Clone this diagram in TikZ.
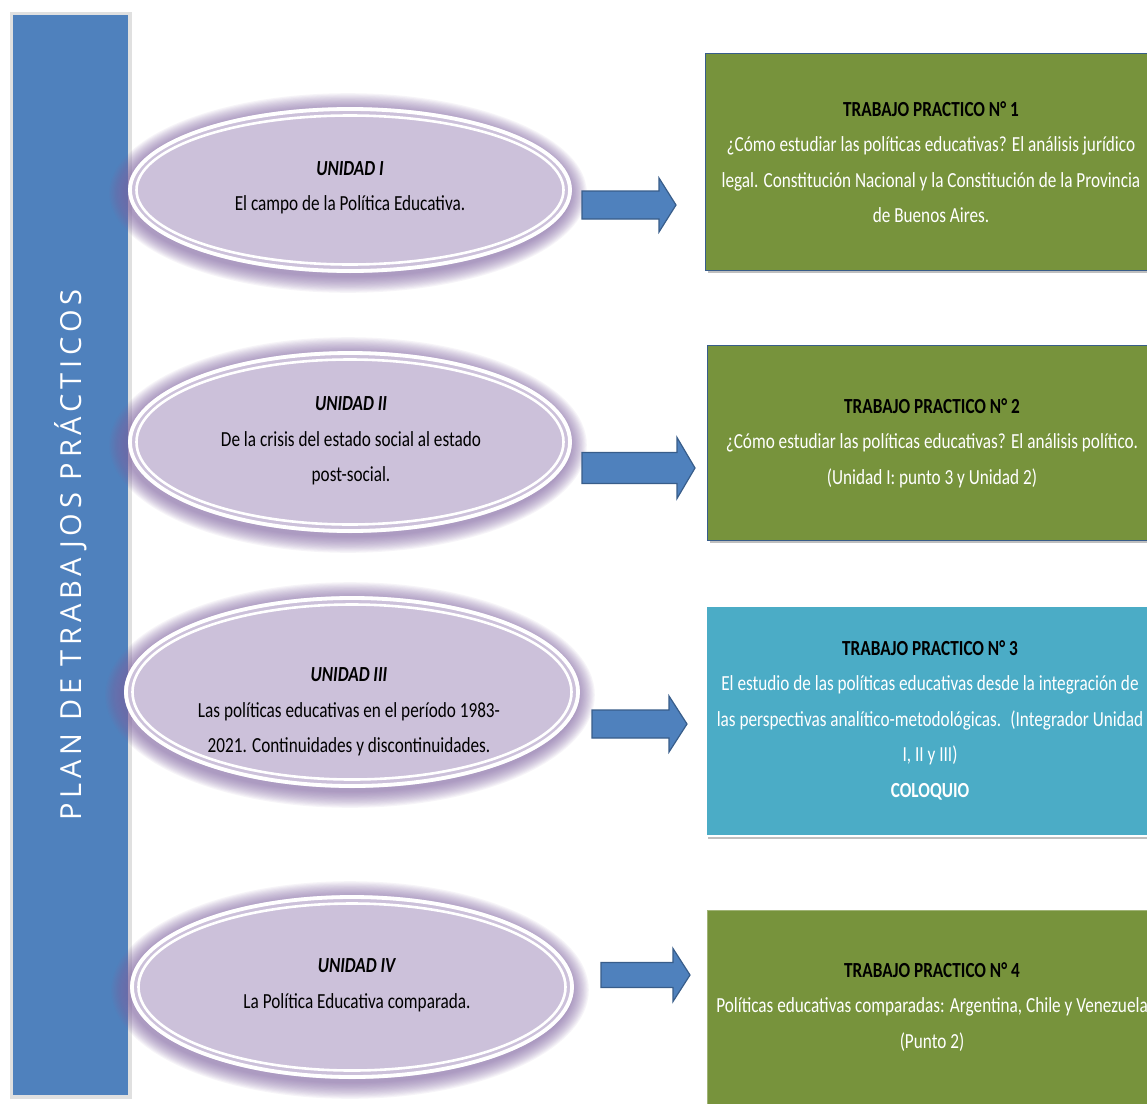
\documentclass[tikz,border=0pt]{standalone}
\usepackage{fontspec}
\setmainfont{Carlito}[FakeStretch=0.80]
\newfontfamily\vfont{Open Sans}[LetterSpace=17]
\usetikzlibrary{shapes.geometric,calc}
\definecolor{barblue}{HTML}{4F81BD}
\definecolor{arrowedge}{HTML}{385D8A}
\definecolor{lav}{HTML}{CCC1DA}
\definecolor{glowc}{HTML}{8064A2}
\definecolor{olivebox}{HTML}{77933C}
\definecolor{tealbox}{HTML}{4BACC6}
\newcommand\lavell[5]{%
  \foreach \k in {1,...,14}{%
    \fill[glowc, opacity=0.065] (#2-2,#3+3) ellipse [x radius={#4pt+\k*1.2pt}, y radius={#5pt+\k*1.2pt}];
  }%
  \node[ell, minimum width={2*#4pt}, minimum height={2*#5pt}] (#1) at (#2,#3) {};
  \draw[white, line width=3.8pt] (#1.center) ellipse [x radius={#4pt-2pt}, y radius={#5pt-2pt}];
  \draw[white, line width=2.6pt] (#1.center) ellipse [x radius={#4pt-8.5pt}, y radius={#5pt-8.5pt}];
}
\newcommand\blockarrow[7]{% name, x0, xh, xt, yc, s, h
  \coordinate (#1) at (#2,#5);
  \draw[barrow] ($(#1)+(0,-#6)$) -- ($(#1)+(#3-#2,-#6)$) -- ($(#1)+(#3-#2,-#7)$) -- ($(#1)+(#4-#2,0)$)
    -- ($(#1)+(#3-#2,#7)$) -- ($(#1)+(#3-#2,#6)$) -- ($(#1)+(0,#6)$) -- cycle;
}
\begin{document}
\begin{tikzpicture}[x=1pt,y=-1pt,
  ell/.style={ellipse, fill=lav, inner sep=0pt, draw=none},
  etext/.style={align=center, font=\fontsize{21.5}{35.5}\selectfont, text=black, inner sep=0pt},
  tpbox/.style={rectangle, inner sep=0pt, anchor=north west, minimum width=452pt},
  btext/.style={align=center, font=\fontsize{21.5}{35.5}\selectfont, text=white, inner sep=0pt},
  barrow/.style={fill=barblue, draw=arrowedge, line width=1.2pt, line join=miter}]
\useasboundingbox (0,0) rectangle (1147,1103);
\fill[white] (0,0) rectangle (1147,1103);

% left bar
\fill[black!12] (10,12) rectangle (132,1099);
\node[rectangle, fill=barblue, anchor=north west, minimum width=115pt, minimum height=1080pt, inner sep=0pt] (bar) at (13,15) {};
\node[rotate=90, text=white, font=\vfont\fontsize{29}{32}\selectfont, inner sep=0pt] (bartext) at (71,555) {PLAN DE TRABAJOS PRÁCTICOS};

% ellipses
\lavell{e1}{350}{190}{222}{83}
\lavell{e2}{350}{442}{222}{91}
\lavell{e3}{352}{692}{228}{96}
\lavell{e4}{352}{987}{222}{92}

\node[etext] (t1) at (350,188) {\textbf{\textit{UNIDAD I}}\\El campo de la Política Educativa.};
\node[etext] (t2) at (351,441) {\textbf{\textit{UNIDAD II}}\\De la crisis del estado social al estado\\post-social.};
\node[etext] (t3) at (349,712) {\textbf{\textit{UNIDAD III}}\\Las políticas educativas en el período 1983-\\2021. Continuidades y discontinuidades.};
\node[etext] (t4) at (357,985) {\textbf{\textit{UNIDAD IV}}\\La Política Educativa comparada.};

% arrows
\blockarrow{a1}{582}{659}{676}{205}{14}{27}
\blockarrow{a2}{582}{677}{695}{468}{15.5}{30.5}
\blockarrow{a3}{592}{669}{687}{724}{14}{28}
\blockarrow{a4}{601}{673}{690}{975}{12.5}{26.5}

% boxes
\fill[black!25] (708,56) rectangle (1160,273);
\node[tpbox, fill=olivebox, draw=arrowedge, line width=1pt, minimum height=217pt] (b1) at (705,53) {};
\fill[black!25] (710,348) rectangle (1160,543);
\node[tpbox, fill=olivebox, draw=arrowedge, line width=1pt, minimum height=195pt] (b2) at (707,345) {};
\fill[black!25] (708,609) rectangle (1160,839);
\node[tpbox, fill=tealbox, draw=white, line width=1.5pt, minimum height=230pt] (b3) at (705,605) {};
\node[tpbox, fill=olivebox, draw=olivebox!70!white, line width=1pt, minimum height=200pt] (b4) at (707,910) {};

\node[btext] (bt1) at (931,162) {{\color{black}\bfseries TRABAJO PRACTICO N° 1}\\¿Cómo estudiar las políticas educativas? El análisis jurídico\\legal. Constitución Nacional y la Constitución de la Provincia\\de Buenos Aires.};
\node[btext] (bt2) at (932,443) {{\color{black}\bfseries TRABAJO PRACTICO N° 2}\\¿Cómo estudiar las políticas educativas? El análisis político.\\(Unidad I: punto 3 y Unidad 2)};
\node[btext] (bt3) at (930,720) {{\color{black}\bfseries TRABAJO PRACTICO N° 3}\\El estudio de las políticas educativas desde la integración de\\las perspectivas analítico-metodológicas.~ (Integrador Unidad\\I, II y III)\\\textbf{COLOQUIO}};
\node[btext] (bt4) at (932,1007) {{\color{black}\bfseries TRABAJO PRACTICO N° 4}\\Políticas educativas comparadas: Argentina, Chile y Venezuela\\(Punto 2)};
\end{tikzpicture}
\end{document}
